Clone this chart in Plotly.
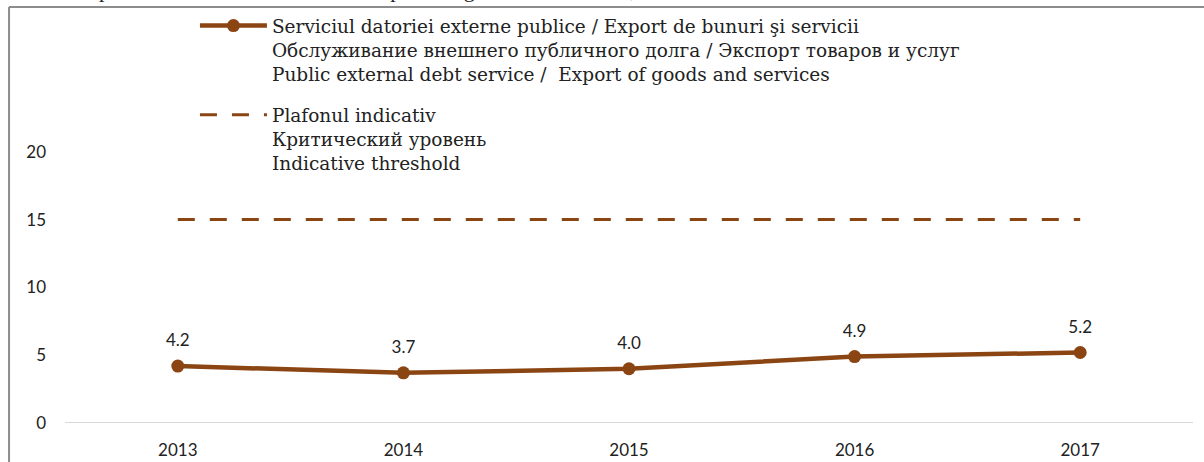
import plotly.graph_objects as go

years = ['2013', '2014', '2015', '2016', '2017']
debt_ratio = [4.2, 3.7, 4.0, 4.9, 5.2]
threshold = [15, 15, 15, 15, 15]
labels = ['4.2', '3.7', '4.0', '4.9', '5.2']

name_main = ('Serviciul datoriei externe publice / Export de bunuri şi servicii<br>'
             'Обслуживание внешнего публичного долга / Экспорт товаров и услуг<br>'
             'Public external debt service /  Export of goods and services')
name_thr = 'Plafonul indicativ<br>Критический уровень<br>Indicative threshold'
title_text = 'Ratio of public external debt service to exports of goods and services, %'

brown = '#8B4513'

fig = go.Figure()

fig.add_trace(go.Scatter(
    x=years, y=debt_ratio, name=name_main, legendgroup='a',
    mode='lines+markers',
    line=dict(color=brown, width=4.5),
    marker=dict(color=brown, size=13),
))

fig.add_trace(go.Scatter(
    x=years, y=threshold, name=name_thr, legendgroup='b',
    mode='lines',
    line=dict(color=brown, width=3, dash='17px,15px'),
))

# value labels above the points (big invisible markers push text up)
fig.add_trace(go.Scatter(
    x=years, y=debt_ratio, mode='markers+text', text=labels,
    textposition='top center', showlegend=False, hoverinfo='skip',
    marker=dict(size=23, opacity=0),
    textfont=dict(family='Lato', size=17, color='#222'),
))

fig.update_layout(
    width=1204, height=462,
    margin=dict(l=65, r=11, t=84, b=39, autoexpand=False),
    plot_bgcolor='white', paper_bgcolor='white',
    showlegend=True,
    legend=dict(
        x=0.1152, y=1.227, xanchor='left', yanchor='top',
        font=dict(family='DejaVu Serif', size=18.5, color='#222'),
        itemwidth=67, valign='top', tracegroupgap=14, traceorder='grouped',
        bgcolor='rgba(255,255,255,0)',
    ),
    xaxis=dict(
        type='category', range=[-0.5, 4.5],
        showgrid=False, showline=False, zeroline=False,
        tickfont=dict(family='Lato', size=17, color='#222'),
        ticklabelstandoff=15, automargin=False,
    ),
    yaxis=dict(
        range=[0, 25], tickvals=[0, 5, 10, 15, 20],
        showgrid=False, zeroline=False, showline=False,
        tickfont=dict(family='Lato', size=17, color='#222'),
        ticklabelstandoff=18, automargin=False,
    ),
)

# light baseline at zero
fig.add_shape(type='line', xref='paper', yref='y', x0=0, x1=1, y0=0, y1=0,
              line=dict(color='#d9d9d9', width=2), layer='below')

# outer frame of the chart box (top and left edges)
fig.add_shape(type='line', xref='paper', yref='paper',
              x0=-0.0496, x1=1.02, y0=1.227, y1=1.227,
              line=dict(color='#8c8c8c', width=2))
fig.add_shape(type='line', xref='paper', yref='paper',
              x0=-0.0496, x1=-0.0496, y0=1.227, y1=-0.2,
              line=dict(color='#8c8c8c', width=2))

fig.add_annotation(text=title_text, xref='paper', yref='paper',
                   x=-0.0399, y=1.236, xanchor='left', yanchor='bottom',
                   showarrow=False,
                   font=dict(family='Liberation Serif', size=22, color='#222'))

fig.write_html('out.html', config={'displayModeBar': False},
               post_script="document.body.style.margin='0px';")
